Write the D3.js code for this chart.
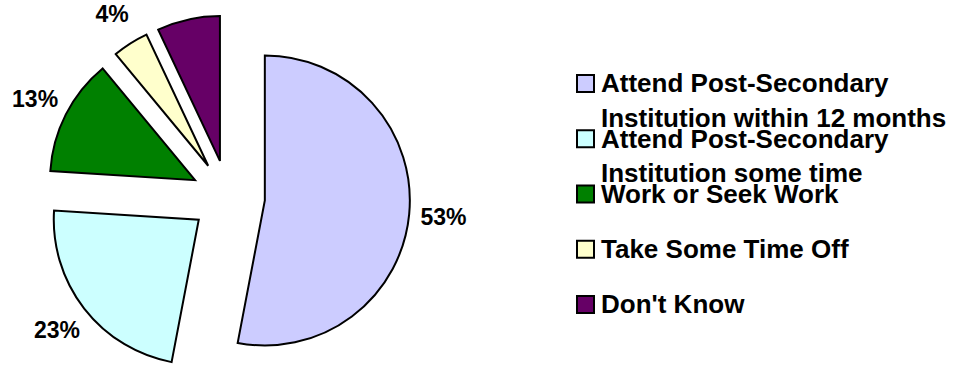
<!DOCTYPE html>
<html>
<head>
<meta charset="utf-8">
<script src="https://cdn.jsdelivr.net/npm/d3@7/dist/d3.min.js"></script>
<style>
  html, body { margin: 0; padding: 0; background: #fff; }
  svg { display: block; }
  text { font-family: "Liberation Sans", Arial, sans-serif; font-weight: bold; fill: #000; }
</style>
</head>
<body>
<svg id="chart" width="956" height="365"></svg>
<script>
// ---- data ----
const categories = [
  "Attend Post-Secondary\nInstitution within 12 months",
  "Attend Post-Secondary\nInstitution some time",
  "Work or Seek Work",
  "Take Some Time Off",
  "Don't Know"
];
const values = [53, 23, 13, 4, 7];
const valueLabels = ["53%", "23%", "13%", "4%", "7%"];
const colors = ["#CCCCFF", "#CCFFFF", "#008000", "#FFFFCC", "#660066"];

// ---- layout ----
const W = 956, H = 365;
const cx = 228, cy = 197, R = 145, explode = 37, labelR = 179.5;

const svg = d3.select("#chart");
const data = categories.map((c, i) => ({ cat: c, value: values[i], label: valueLabels[i], color: colors[i] }));

const pie = d3.pie().value(d => d.value).sort(null).startAngle(0).endAngle(2 * Math.PI);
const arcs = pie(data);
const arc = d3.arc().innerRadius(0).outerRadius(R);

const g = svg.append("g").attr("transform", `translate(${cx},${cy})`);

arcs.forEach(a => {
  const mid = (a.startAngle + a.endAngle) / 2;
  const dx = Math.sin(mid), dy = -Math.cos(mid);
  a.ox = dx * explode; a.oy = dy * explode; a.dx = dx; a.dy = dy;
});

g.selectAll("path.slice").data(arcs).enter().append("path")
  .attr("class", "slice")
  .attr("transform", a => `translate(${a.ox},${a.oy})`)
  .attr("d", arc)
  .attr("fill", a => a.data.color)
  .attr("stroke", "#000")
  .attr("stroke-width", 2)
  .attr("stroke-linejoin", "miter");

// labels whose position falls off the canvas (Don't Know) are not shown, as in the reference
g.selectAll("text.lbl").data(arcs.filter(a => {
    const y = cy + a.oy + a.dy * labelR;
    return y > 8 && y < H - 8;
  })).enter().append("text")
  .attr("class", "lbl")
  .attr("x", a => a.ox + a.dx * labelR)
  .attr("y", a => a.oy + a.dy * labelR)
  .attr("text-anchor", "middle")
  .attr("dominant-baseline", "central")
  .attr("font-size", 23)
  .text(a => a.data.label);

// ---- legend ----
const legX = 577, legTextX = 601, firstBase = 92.3, step = 55.25, wrapStep = 34.5, sw = 17;
const leg = svg.append("g");
data.forEach((d, i) => {
  const base = firstBase + i * step;
  leg.append("rect")
    .attr("x", legX).attr("y", base - 17.3)
    .attr("width", sw).attr("height", sw)
    .attr("fill", d.color).attr("stroke", "#000").attr("stroke-width", 2);
  const t = leg.append("text").attr("x", legTextX).attr("y", base).attr("font-size", 26);
  d.cat.split("\n").forEach((line, j) => {
    t.append("tspan").attr("x", legTextX).attr("y", base + j * wrapStep).text(line);
  });
});
</script>
</body>
</html>
